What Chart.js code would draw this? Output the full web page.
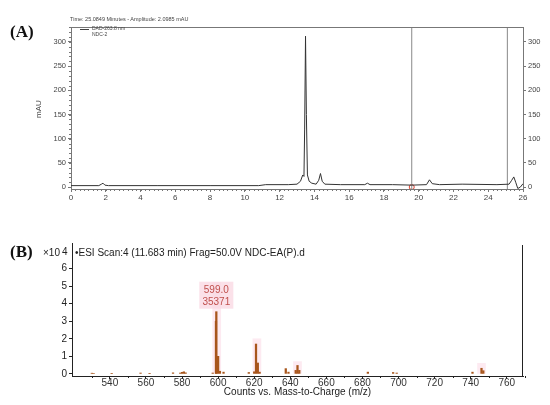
<!DOCTYPE html>
<html lang="en">
<head>
  <meta charset="UTF-8">
  <title>Chromatogram and MS spectrum</title>
  <script src="https://cdn.jsdelivr.net/npm/chart.js"></script>
  <style>
    body { margin: 0; background: #fff; font-family: "Liberation Sans", Arial, sans-serif; }
    #wrap { position: relative; width: 550px; height: 405px; }
    canvas { position: absolute; left: 0; }
    #chartA { top: 0; }
    #chartB { top: 205px; }
    .lbl { position: absolute; white-space: nowrap; }
    .panel { font-family: "Liberation Serif", "Times New Roman", serif; font-weight: bold; font-size: 17px; color: #111; }
  </style>
</head>
<body>
<div id="wrap">
  <canvas id="chartA" width="550" height="205"></canvas>
  <canvas id="chartB" width="550" height="200"></canvas>

  <div class="lbl panel" style="left:10px; top:22px;">(A)</div>
  <div class="lbl panel" style="left:10px; top:242px;">(B)</div>

  <div class="lbl" style="left:70px; top:16px; font-size:5.5px; color:#444;">Time: 25.0849 Minutes - Amplitude: 2.0985 mAU</div>
  <div class="lbl" style="left:80px; top:29px; width:9px; border-top:1px solid #444;"></div>
  <div class="lbl" style="left:92px; top:26px; font-size:5px; color:#444; line-height:5.5px;">DAD-263.8 nm<br>NDC-2</div>
  <div class="lbl" style="left:34px; top:118px; font-size:8px; color:#444; transform:rotate(-90deg); transform-origin:left top;">mAU</div>

  <div class="lbl" style="left:43px; top:247px; font-size:10px; color:#222;">×10</div>
  <div class="lbl" style="left:62px; top:246px; font-size:10px; color:#222;">4</div>
  <div class="lbl" style="left:75px; top:247px; font-size:10px; color:#222;">•ESI Scan:4 (11.683 min) Frag=50.0V NDC-EA(P).d</div>
</div>

<script>
  // (A) HPLC chromatogram, DAD 263.8 nm
  const times = [0, 1.6, 1.75, 1.84, 1.95, 2.15, 5, 8, 10.8, 11.2, 12.5, 13.0, 13.2, 13.33, 13.4, 13.44, 13.49, 13.54, 13.6, 13.7, 13.85, 14.1, 14.25, 14.35, 14.45, 14.6, 15.5, 16.9, 17.05, 17.2, 18.5, 19.6, 20.45, 20.62, 20.78, 21.2, 22.5, 24.5, 25.2, 25.35, 25.47, 25.58, 25.7, 25.85, 26];
  const mau   = [3, 3, 6, 8, 4, 3, 3, 3, 3, 5, 5, 6, 12, 25, 22, 120, 312, 150, 25, 12, 8, 6, 14, 28, 12, 6, 5, 5, 8, 5, 5, 4, 5, 15, 7, 5, 6, 5, 6, 14, 21, 10, -3, 0, 7];
  const cursorTimes = [19.6, 25.1];
  const xTicksA = [0, 2, 4, 6, 8, 10, 12, 14, 16, 18, 20, 22, 24, 26];
  const yTicksA = [0, 50, 100, 150, 200, 250, 300];

  // (B) ESI mass spectrum, counts x10^4
  const mz     = [530, 531, 541, 557, 562, 575, 579, 580, 581, 582, 597, 598.8, 599.0, 600.0, 601, 603, 617, 620, 621, 622, 623, 637.5, 639, 643, 644, 645, 683, 697, 699, 741, 746, 747];
  const counts = [0.04, 0.03, 0.02, 0.05, 0.02, 0.06, 0.05, 0.09, 0.12, 0.06, 0.05, 3.0, 3.54, 1.0, 0.15, 0.1, 0.08, 0.12, 1.7, 0.62, 0.1, 0.3, 0.1, 0.2, 0.48, 0.2, 0.1, 0.08, 0.05, 0.1, 0.32, 0.18];
  const highlightMz = [599.2, 621.5, 644, 746];
  const highlightTop = [5.2, 2.0, 0.7, 0.6];
  const peakLabel = { mz: 599.0, counts: 3.54, text: ['599.0', '35371'] };
  const xTicksB = [540, 560, 580, 600, 620, 640, 660, 680, 700, 720, 740, 760];
  const yTicksB = [0, 1, 2, 3, 4, 5, 6];

  // small minor tick marks along an axis
  function minorTicks(ctx, scale, from, to, step, len, horizontal, at) {
    ctx.beginPath();
    for (let v = from; v <= to + 1e-9; v += step) {
      const p = Math.round(scale.getPixelForValue(v)) + 0.5;
      if (horizontal) { ctx.moveTo(p, at); ctx.lineTo(p, at + len); }
      else { ctx.moveTo(at, p); ctx.lineTo(at - len, p); }
    }
    ctx.stroke();
  }

  const frameA = {
    id: 'frameA',
    afterDraw(chart) {
      const { ctx, chartArea: a, scales } = chart;
      ctx.save();
      ctx.strokeStyle = '#777';
      ctx.lineWidth = 1;
      ctx.beginPath();
      ctx.moveTo(a.left, a.top + 0.5);
      ctx.lineTo(a.right, a.top + 0.5);
      ctx.stroke();
      minorTicks(ctx, scales.x, 0, 26, 0.25, 2, true, a.bottom);
      minorTicks(ctx, scales.y, 0, 330, 10, 2, false, a.left);
      ctx.restore();
    }
  };

  const ctxA = document.getElementById('chartA').getContext('2d');
  new Chart(ctxA, {
    type: 'line',
    data: {
      datasets: [
        {
          data: times.map((t, i) => ({ x: t, y: mau[i] })),
          borderColor: '#333',
          borderWidth: 1,
          pointRadius: 0,
          tension: 0
        },
        ...cursorTimes.map(t => ({
          data: [{ x: t, y: -4 }, { x: t, y: 331 }],
          borderColor: '#888',
          borderWidth: 1,
          pointRadius: 0
        })),
        {
          data: [{ x: cursorTimes[0], y: 0 }],
          showLine: false,
          pointRadius: 2.5,
          pointBorderColor: '#e04030',
          pointBackgroundColor: '#fff',
          pointBorderWidth: 1
        }
      ]
    },
    options: {
      animation: false,
      responsive: false,
      layout: { padding: { top: 27, left: 0, right: 0, bottom: 0 } },
      plugins: { legend: { display: false }, tooltip: { enabled: false } },
      scales: {
        x: {
          type: 'linear', min: 0, max: 26,
          afterFit: s => { s.height = 16; },
          afterBuildTicks: s => { s.ticks = xTicksA.map(v => ({ value: v })); },
          ticks: { color: '#444', font: { size: 8 }, padding: 1, maxRotation: 0 },
          grid: { drawOnChartArea: false, tickLength: 3, color: '#777' },
          border: { color: '#777' }
        },
        y: {
          position: 'left', min: -4, max: 331,
          afterFit: s => { s.width = 71; },
          afterBuildTicks: s => { s.ticks = yTicksA.map(v => ({ value: v })); },
          ticks: { color: '#444', font: { size: 7.5 }, padding: 2 },
          grid: { drawOnChartArea: false, tickLength: 3, color: '#777' },
          border: { color: '#777' }
        },
        y2: {
          position: 'right', min: -4, max: 331,
          afterFit: s => { s.width = 27; },
          afterBuildTicks: s => { s.ticks = yTicksA.map(v => ({ value: v })); },
          ticks: { color: '#444', font: { size: 7.5 }, padding: 2 },
          grid: { drawOnChartArea: false, tickLength: 3, color: '#777' },
          border: { color: '#777' }
        }
      }
    },
    plugins: [frameA]
  });

  // right frame line, minor ticks and peak label for panel B
  const decorB = {
    id: 'decorB',
    afterDatasetsDraw(chart) {
      const { ctx, chartArea: a, scales } = chart;
      ctx.save();
      ctx.strokeStyle = '#222';
      ctx.lineWidth = 1;
      ctx.beginPath();
      ctx.moveTo(a.right - 0.5, a.top + 2);
      ctx.lineTo(a.right - 0.5, a.bottom);
      ctx.stroke();
      minorTicks(ctx, scales.x, 530, 770, 20, 2, true, a.bottom);

      const px = scales.x.getPixelForValue(peakLabel.mz);
      const py = scales.y.getPixelForValue(peakLabel.counts);
      ctx.font = '10px "Liberation Sans", Arial, sans-serif';
      ctx.textAlign = 'center';
      ctx.fillStyle = 'rgba(250,218,228,0.8)';
      ctx.fillRect(px - 17, py - 30, 34, 27);
      ctx.fillStyle = '#c0504d';
      ctx.fillText(peakLabel.text[0], px, py - 19);
      ctx.fillText(peakLabel.text[1], px, py - 7);
      ctx.restore();
    }
  };

  const ctxB = document.getElementById('chartB').getContext('2d');
  new Chart(ctxB, {
    type: 'bar',
    data: {
      datasets: [
        {
          data: highlightMz.map((m, i) => ({ x: m, y: highlightTop[i] })),
          backgroundColor: 'rgba(252,225,235,0.7)',
          barThickness: 8,
          order: 2
        },
        {
          data: mz.map((m, i) => ({ x: m, y: counts[i] })),
          backgroundColor: '#a8561c',
          barThickness: 1.6,
          order: 1
        }
      ]
    },
    options: {
      animation: false,
      responsive: false,
      datasets: { bar: { grouped: false } },
      layout: { padding: { top: 38, left: 0, right: 27, bottom: 0 } },
      plugins: { legend: { display: false }, tooltip: { enabled: false } },
      scales: {
        x: {
          type: 'linear', min: 519, max: 769, offset: false,
          afterFit: s => { s.height = 29; },
          afterBuildTicks: s => { s.ticks = xTicksB.map(v => ({ value: v })); },
          ticks: { color: '#333', font: { size: 10 }, padding: -2, maxRotation: 0 },
          grid: { drawOnChartArea: false, tickLength: 3, color: '#222', offset: false },
          border: { color: '#222' },
          title: { display: true, text: 'Counts vs. Mass-to-Charge (m/z)', color: '#222', font: { size: 10 }, padding: { top: 0, bottom: 7 } }
        },
        y: {
          min: -0.12, max: 7.45,
          afterFit: s => { s.width = 72; },
          afterBuildTicks: s => { s.ticks = yTicksB.map(v => ({ value: v })); },
          ticks: { color: '#222', font: { size: 10 }, padding: 2 },
          grid: { drawOnChartArea: false, tickLength: 3, color: '#222' },
          border: { color: '#222' }
        }
      }
    },
    plugins: [decorB]
  });
</script>
</body>
</html>
